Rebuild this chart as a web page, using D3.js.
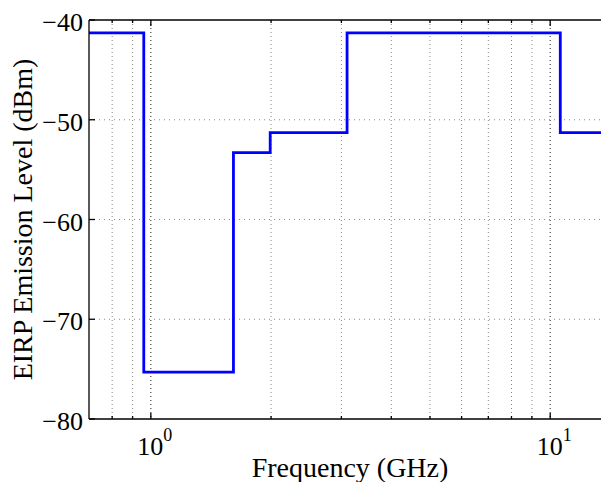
<!DOCTYPE html>
<html>
<head>
<meta charset="utf-8">
<script src="https://cdn.jsdelivr.net/npm/d3@7"></script>
<style>
  body { margin: 0; background: #fff; }
</style>
</head>
<body>
<div id="chart"></div>
<script>
// FCC UWB indoor emission mask
var freqEdges = [0.7, 0.96, 1.61, 1.99, 3.1, 10.6, 16];
var eirpLevels = [-41.3, -75.3, -53.3, -51.3, -41.3, -51.3, -51.3];
var yTicks = [-80, -70, -60, -50, -40];
var xMajor = [1, 10];
var xMinor = [0.8, 0.9, 2, 3, 4, 5, 6, 7, 8, 9];

var W = 601, H = 482;
var margin = {left: 89, top: 20, right: -10, bottom: 63};
var serif = "'Liberation Serif'";

var svg = d3.select("#chart").append("svg")
  .attr("width", W).attr("height", H);

var x = d3.scaleLog()
  .domain([0.7, 14.2])
  .range([margin.left, W - margin.right]);
var y = d3.scaleLinear()
  .domain([-80, -40])
  .range([H - margin.bottom, margin.top]);

var x0 = x.range()[0], x1 = x.range()[1];
var y0 = y.range()[0], y1 = y.range()[1];

// grid
var grid = svg.append("g");
grid.selectAll(".gx").data(xMinor).enter().append("line")
  .attr("x1", d => x(d)).attr("x2", d => x(d))
  .attr("y1", y1).attr("y2", y0)
  .attr("stroke", "#888").attr("stroke-width", 1)
  .attr("stroke-dasharray", "1,3");
grid.selectAll(".gX").data(xMajor).enter().append("line")
  .attr("x1", d => x(d)).attr("x2", d => x(d))
  .attr("y1", y1).attr("y2", y0)
  .attr("stroke", "#222").attr("stroke-width", 1)
  .attr("stroke-dasharray", "1,3");
grid.selectAll(".gy").data(yTicks.slice(1, -1)).enter().append("line")
  .attr("x1", x0).attr("x2", x1)
  .attr("y1", d => y(d)).attr("y2", d => y(d))
  .attr("stroke", "#888").attr("stroke-width", 1)
  .attr("stroke-dasharray", "1,4");

// step line
var pts = freqEdges.map((f, i) => [f, eirpLevels[i]]);
svg.append("path")
  .datum(pts)
  .attr("fill", "none")
  .attr("stroke", "#0000ff")
  .attr("stroke-width", 2.8)
  .attr("d", d3.line()
    .x(d => x(d[0]))
    .y(d => y(d[1]))
    .curve(d3.curveStepAfter));

// axes box
var ax = svg.append("g").attr("stroke", "#000").attr("stroke-width", 1.3);
ax.append("line").attr("x1", x0).attr("x2", x1).attr("y1", y1).attr("y2", y1);
ax.append("line").attr("x1", x0).attr("x2", x1).attr("y1", y0).attr("y2", y0);
ax.append("line").attr("x1", x0).attr("x2", x0).attr("y1", y1).attr("y2", y0);

// ticks
yTicks.forEach(function(t) {
  ax.append("line").attr("x1", x0).attr("x2", x0 + 6).attr("y1", y(t)).attr("y2", y(t));
});
xMajor.forEach(function(t) {
  ax.append("line").attr("x1", x(t)).attr("x2", x(t)).attr("y1", y0).attr("y2", y0 - 6);
  ax.append("line").attr("x1", x(t)).attr("x2", x(t)).attr("y1", y1).attr("y2", y1 + 6);
});
xMinor.forEach(function(t) {
  ax.append("line").attr("x1", x(t)).attr("x2", x(t)).attr("y1", y0).attr("y2", y0 - 3);
  ax.append("line").attr("x1", x(t)).attr("x2", x(t)).attr("y1", y1).attr("y2", y1 + 3);
});

// tick labels
svg.selectAll(".yl").data(yTicks).enter().append("text")
  .attr("x", x0 - 6).attr("y", d => y(d) + 11)
  .attr("text-anchor", "end")
  .style("font-family", serif)
  .style("font-size", "26px")
  .text(d => d3.format("")(d).replace("-", "\u2212"));

xMajor.forEach(function(t) {
  var txt = svg.append("text")
    .attr("x", x(t) + 4).attr("y", y0 + 36)
    .attr("text-anchor", "middle")
    .style("font-family", serif)
    .style("font-size", "26px");
  txt.append("tspan").text("10");
  txt.append("tspan").style("font-size", "18px").attr("dy", -14).text(Math.round(Math.log10(t)));
});

// axis labels
svg.append("text")
  .attr("x", 350).attr("y", 477)
  .attr("text-anchor", "middle")
  .style("font-family", serif)
  .style("font-size", "28px")
  .text("Frequency (GHz)");
svg.append("text")
  .attr("transform", "translate(32," + ((y0 + y1) / 2) + ") rotate(-90)")
  .attr("text-anchor", "middle")
  .style("font-family", serif)
  .style("font-size", "28px")
  .text("EIRP Emission Level (dBm)");
</script>
</body>
</html>
